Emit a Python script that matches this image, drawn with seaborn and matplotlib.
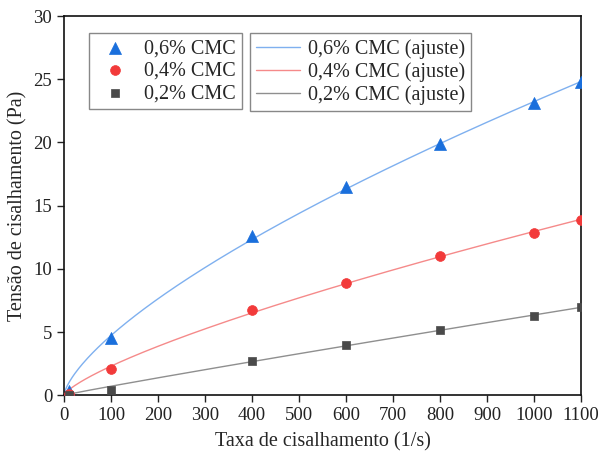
import numpy as np
import pandas as pd
import matplotlib
matplotlib.use('Agg')
import matplotlib.pyplot as plt
import seaborn as sns

# shear rate (1/s) and shear stress (Pa)
taxa = [10, 100, 400, 600, 800, 1000, 1100]
cmc_06 = [0.3, 4.55, 12.6, 16.5, 19.9, 23.1, 24.75]
cmc_04 = [0.1, 2.06, 6.72, 8.91, 11.02, 12.87, 13.85]
cmc_02 = [0.05, 0.45, 2.74, 4.0, 5.17, 6.27, 6.94]

series = [
    ('0,6% CMC', cmc_06, '#1a6fdc', '#7fb0ef', '^', 75),
    ('0,4% CMC', cmc_04, '#f23a3a', '#f58a8a', 'o', 50),
    ('0,2% CMC', cmc_02, '#4a4a4a', '#8f8f8f', 's', 38),
]


def power_fit(x, y):
    # least squares fit of tau = K * gamma^n, scanning n
    x = np.asarray(x, float)
    y = np.asarray(y, float)
    best = None
    for n in np.linspace(0.3, 1.5, 1201):
        xn = x ** n
        k = (y * xn).sum() / (xn * xn).sum()
        err = ((y - k * xn) ** 2).sum()
        if best is None or err < best[0]:
            best = (err, k, n)
    return best[1], best[2]


sns.set_style('ticks')
plt.rcParams['font.family'] = ['Liberation Serif', 'DejaVu Serif']

fig = plt.figure(figsize=(5.98, 4.59), dpi=100)
ax = fig.add_axes([0.107, 0.139, 0.8646, 0.826])

x_fit = np.linspace(1, 1100, 400)
for name, vals, mcol, lcol, mk, sz in series:
    df = pd.DataFrame({'x': taxa, 'y': vals})
    k, n = power_fit(df['x'], df['y'])
    fit = pd.DataFrame({'x': x_fit, 'y': k * x_fit ** n})
    sns.lineplot(data=fit, x='x', y='y', color=lcol, linewidth=1.0, ax=ax,
                 label=name + ' (ajuste)')
    sns.scatterplot(data=df, x='x', y='y', color=mcol, marker=mk, s=sz,
                    edgecolor=mcol, linewidth=0.5, ax=ax, label=name, zorder=3)

handles, labels = ax.get_legend_handles_labels()
pts = [(h, l) for h, l in zip(handles, labels) if 'ajuste' not in l]
fits = [(h, l) for h, l in zip(handles, labels) if 'ajuste' in l]

leg_kw = dict(loc='upper left', borderaxespad=0, fontsize=14.5, fancybox=False,
              edgecolor='#888888', framealpha=1, labelspacing=0.17)
leg1 = ax.legend([h for h, _ in pts], [l for _, l in pts],
                 bbox_to_anchor=(0.048, 0.955), handlelength=2.0,
                 handletextpad=0.45, borderpad=0.3, **leg_kw)
leg1.get_frame().set_linewidth(1.0)
ax.add_artist(leg1)
leg2 = ax.legend([h for h, _ in fits], [l for _, l in fits],
                 bbox_to_anchor=(0.36, 0.955), handlelength=2.2,
                 handletextpad=0.35, borderpad=0.3, **leg_kw)
leg2.get_frame().set_linewidth(1.0)

ax.set_xlim(0, 1100)
ax.set_ylim(0, 30)
ax.set_xticks(range(0, 1101, 100))
ax.set_yticks(range(0, 31, 5))
ax.tick_params(axis='both', direction='out', length=5, width=1, labelsize=13.5,
               colors='#222222')
for sp in ax.spines.values():
    sp.set_linewidth(1.2)
    sp.set_color('#111111')
ax.set_xlabel('Taxa de cisalhamento (1/s)', fontsize=14.5, labelpad=6)
ax.set_ylabel('Tensão de cisalhamento (Pa)', fontsize=14.5, labelpad=4)

fig.savefig('out.png', dpi=100)
